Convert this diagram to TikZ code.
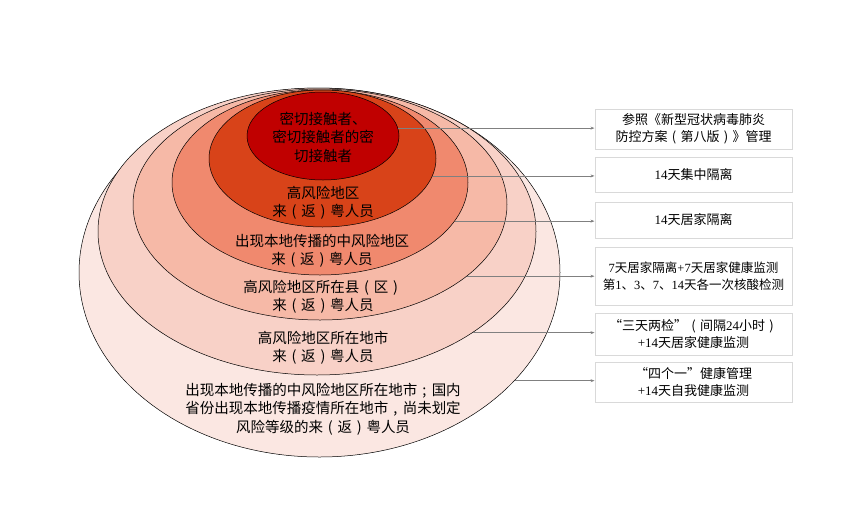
\documentclass[tikz,border=0pt]{standalone}
\usepackage{fontspec}
\setmainfont{Noto Sans CJK SC}
\newfontfamily\lat{Liberation Serif}
\usetikzlibrary{shapes.geometric,arrows.meta}
\definecolor{c1}{RGB}{192,0,0}
\definecolor{c2}{RGB}{216,67,25}
\definecolor{c3}{RGB}{240,137,110}
\definecolor{c4}{RGB}{246,185,167}
\definecolor{c5}{RGB}{248,209,199}
\definecolor{c6}{RGB}{251,231,226}
\definecolor{boxline}{RGB}{217,217,217}
\definecolor{arrgray}{RGB}{128,128,128}
\newcommand\zl{\makebox[1em][c]{(}}
\newcommand\zr{\makebox[1em][c]{)}}
\newcommand\zsc{\makebox[1em][c]{;}}
\newcommand\zcm{\makebox[1em][c]{,}}
\tikzset{
  ell/.style={ellipse, draw=black, line width=0.5pt, inner sep=0pt},
  etext/.style={align=center, font=\fontsize{14.5}{18.5}\selectfont, text=black},
  rbox/.style={draw=boxline, line width=1pt, fill=white, minimum width=197pt, align=center, inner sep=0pt, font=\fontsize{13}{17}\selectfont},
  arr/.style={draw=arrgray, line width=0.8pt, -{Stealth[length=4pt,width=3pt]}}
}
\begin{document}
\begin{tikzpicture}[x=1pt,y=-1pt]
\useasboundingbox (0,0) rectangle (852,504);
% ellipses, outer to inner
\node[ell, fill=c6, minimum width=481pt, minimum height=369pt] (e6) at (319.5,272.5) {};
\node[ell, fill=c5, minimum width=438pt, minimum height=287pt] (e5) at (317,231.5) {};
\node[ell, fill=c4, minimum width=374pt, minimum height=231pt] (e4) at (320,204.5) {};
\node[ell, fill=c3, minimum width=296pt, minimum height=185pt] (e3) at (320,182.5) {};
\node[ell, fill=c2, minimum width=227pt, minimum height=137pt] (e2) at (322.5,158.5) {};
\node[ell, fill=c1, minimum width=152pt, minimum height=88pt] (e1) at (323,136) {};
% labels
\node[etext] (t1) at (323,137) {密切接触者、\\密切接触者的密\\切接触者};
\node[etext] (t2) at (323,203) {高风险地区\\来\zl 返\zr 粤人员};
\node[etext] (t3) at (322,251) {出现本地传播的中风险地区\\来\zl 返\zr 粤人员};
\node[etext] (t4) at (323,297) {高风险地区所在县\zl 区\zr\\来\zl 返\zr 粤人员};
\node[etext] (t5) at (323,348) {高风险地区所在地市\\来\zl 返\zr 粤人员};
\node[etext] (t6) at (323,409) {出现本地传播的中风险地区所在地市\zsc 国内\\省份出现本地传播疫情所在地市\zcm 尚未划定\\风险等级的来\zl 返\zr 粤人员};
% boxes
\node[rbox, minimum height=40pt] (b1) at (693.5,129) {参照《新型冠状病毒肺炎\\防控方案\zl 第八版\zr》管理};
\node[rbox, minimum height=35pt] (b2) at (693.5,174.5) {{\lat 14}天集中隔离};
\node[rbox, minimum height=36pt] (b3) at (693.5,220) {{\lat 14}天居家隔离};
\node[rbox, minimum height=58pt, font=\fontsize{12.5}{17}\selectfont] (b4) at (693.5,276) {{\lat 7}天居家隔离{\lat +7}天居家健康监测\\第{\lat 1}、{\lat 3}、{\lat 7}、{\lat 14}天各一次核酸检测};
\node[rbox, minimum height=42pt] (b5) at (693.5,334) {“三天两检”\zl 间隔{\lat 24}小时\zr\\{\lat +14}天居家健康监测};
\node[rbox, minimum height=40pt] (b6) at (693.5,382) {“四个一”健康管理\\{\lat +14}天自我健康监测};
% connectors
\draw[arr] (e1.6) -- (e1.6 -| b1.west);
\draw[arr] (e2.-9) -- (e2.-9 -| b2.west);
\draw[arr] (e3.-16) -- (e3.-16 -| b3.west);
\draw[arr] (e4.-26) -- (e4.-26 -| b4.west);
\draw[arr] (e5.-33) -- (e5.-33 -| b5.west);
\draw[arr] (e6.-29) -- (e6.-29 -| b6.west);
\end{tikzpicture}
\end{document}
